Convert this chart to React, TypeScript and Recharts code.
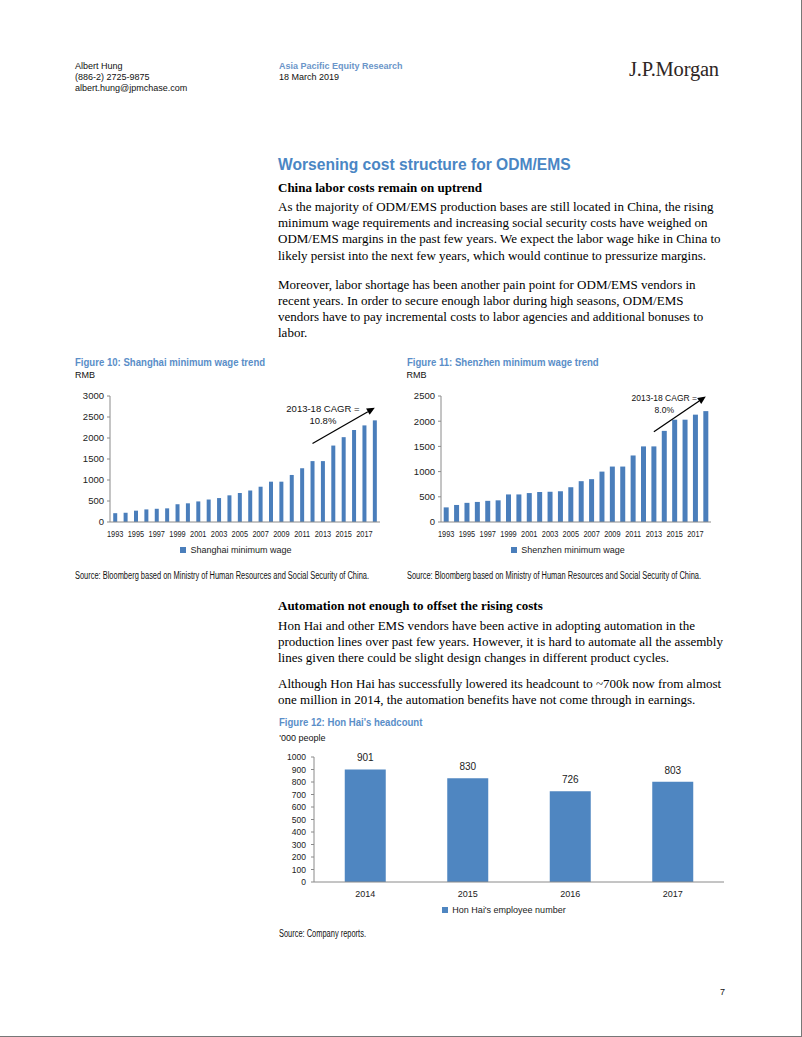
import React from 'react';
import { BarChart, Bar, XAxis, YAxis, Legend, ReferenceLine, ReferenceDot, LabelList } from 'recharts';

// ---------- data ----------
const years = ['1993','1994','1995','1996','1997','1998','1999','2000','2001','2002','2003','2004','2005','2006','2007','2008','2009','2010','2011','2012','2013','2014','2015','2016','2017','2018'];
const shanghaiWage = [210,220,270,300,315,325,423,445,490,535,570,635,690,750,840,960,960,1120,1280,1450,1450,1820,2020,2190,2300,2420];
const shenzhenWage = [290,338,380,398,420,430,547,547,574,595,600,610,690,810,850,1000,1100,1100,1320,1500,1500,1808,2030,2030,2130,2200];
const shanghaiTicks = [0,500,1000,1500,2000,2500,3000];
const shenzhenTicks = [0,500,1000,1500,2000,2500];

const hhYears = ['2014','2015','2016','2017'];
const hhHeadcount = [901,830,726,803];
const hhTicks = [0,100,200,300,400,500,600,700,800,900,1000];

// annotation anchors (data coordinates)
const shArrow = [{ x: '2012', y: 1870 }, { x: '2018', y: 2720 }];
const shCagrLines = ['2013-18 CAGR =', '10.8%'];
const shCagrAt = { x: '2013', y: 2690 };
const szArrow = [{ x: '2013', y: 1790 }, { x: '2018', y: 2490 }];
const szCagrLines = ['2013-18 CAGR =', '8.0%'];
const szCagrAt = { x: '2014', y: 2466 };

const shData = years.map((y, i) => ({ year: y, value: shanghaiWage[i] }));
const szData = years.map((y, i) => ({ year: y, value: shenzhenWage[i] }));
const hhData = hhYears.map((y, i) => ({ year: y, value: hhHeadcount[i] }));

// category boundaries for Excel-style "between" tick marks
const boundaries = (n: number) => Array.from({ length: n + 1 }, (_, i) => i);

// ---------- styles ----------
const SANS = "'Liberation Sans', Arial, sans-serif";
const SERIF = "'Liberation Serif', 'Times New Roman', serif";
const BAR = '#4a7ebb';
const BAR12 = '#4f86c1';
const AXIS = '#8a8a8a';
const BLUE = '#4a86c4';
const TITLE_BLUE = '#5a8ec8';

const sansTop = (baseline: number, size: number, lh: number) => baseline - ((lh - 1.117 * size) / 2 + 0.905 * size);
const serifTop = (baseline: number, size: number, lh: number) => baseline - ((lh - 1.107 * size) / 2 + 0.891 * size);

const SansText = ({ x, baseline, size, children, bold, color, narrow, lh }: any) => {
  const l = lh || size * 1.2;
  return (
    <div style={{ position: 'absolute', left: x, top: sansTop(baseline, size, l), fontFamily: SANS, fontSize: size, lineHeight: `${l}px`, fontWeight: bold ? 700 : 400, color: color || '#111', whiteSpace: 'nowrap', transform: narrow ? `scaleX(${narrow})` : undefined, transformOrigin: 'left top' }}>{children}</div>
  );
};

const SerifBlock = ({ x, baseline, size, lh, lines, bold }: any) => (
  <div style={{ position: 'absolute', left: x, top: serifTop(baseline, size, lh), fontFamily: SERIF, fontSize: size, lineHeight: `${lh}px`, fontWeight: bold ? 700 : 400, color: '#000', whiteSpace: 'nowrap' }}>
    {lines.map((t: string, i: number) => <div key={i}>{t}</div>)}
  </div>
);

const NarrowTick = (p: any) => (
  <g transform={`translate(${p.x},${p.y})`}>
    <text transform="scale(0.82,1)" textAnchor="middle" dy="0.71em" fontSize={9} fill="#222" fontFamily={SANS}>{p.payload.value}</text>
  </g>
);

const Arrow = (p: any) => {
  const { x1, y1, x2, y2 } = p;
  if ([x1, y1, x2, y2].some((v) => typeof v !== 'number' || isNaN(v))) return <g />;
  const ang = Math.atan2(y2 - y1, x2 - x1);
  const L = 8, W = 3.6;
  const bx = x2 - L * Math.cos(ang), by = y2 - L * Math.sin(ang);
  const pts = `${x2},${y2} ${bx + W * Math.sin(ang)},${by - W * Math.cos(ang)} ${bx - W * Math.sin(ang)},${by + W * Math.cos(ang)}`;
  return (
    <g>
      <line x1={x1} y1={y1} x2={bx} y2={by} stroke="#000" strokeWidth={1.3} />
      <polygon points={pts} fill="#000" />
    </g>
  );
};

const cagrShape = (lines: string[], size: number) => (p: any) => (
  <text x={p.cx} y={p.cy} textAnchor="middle" fontFamily={SANS} fontSize={size} fill="#111">
    <tspan x={p.cx} dy="0.35em">{lines[0]}</tspan>
    <tspan x={p.cx} dy="12">{lines[1]}</tspan>
  </text>
);

const legendFmt = (v: string) => <span style={{ color: '#222' }}>{v}</span>;

const WageChart = ({ left, data, ticks, max, name, gap, arrow, cagrAt, cagrLines, cagrSize, legendPad }: any) => (
  <div style={{ position: 'absolute', left, top: 380 }}>
    <BarChart width={330} height={190} data={data} margin={{ top: 16, right: 10, bottom: 0, left: 0 }} barCategoryGap={gap}>
      <XAxis xAxisId="bounds" type="number" domain={[0, data.length]} ticks={boundaries(data.length)} interval={0} height={0}
        tick={false} tickSize={3} axisLine={false} tickLine={{ stroke: AXIS }} allowDataOverflow />
      <XAxis dataKey="year" interval={1} tickLine={false} axisLine={{ stroke: AXIS }} tickSize={4} tickMargin={5} height={20}
        tick={<NarrowTick />} />
      <YAxis width={50} domain={[0, max]} ticks={ticks} interval={0} tickSize={3} tickMargin={3} axisLine={{ stroke: AXIS }} tickLine={{ stroke: AXIS }}
        tick={{ fontSize: 9.5, fill: '#222', fontFamily: SANS }} />
      <Bar dataKey="value" name={name} fill={BAR} isAnimationActive={false} />
      <Legend verticalAlign="bottom" height={25.5} iconType="square" iconSize={6} formatter={legendFmt}
        wrapperStyle={{ paddingLeft: legendPad, paddingTop: 2.5, fontSize: 9, fontFamily: SANS, lineHeight: '11px' }} />
      <ReferenceLine segment={arrow} ifOverflow="visible" shape={Arrow} />
      <ReferenceDot x={cagrAt.x} y={cagrAt.y} r={0} ifOverflow="visible" shape={cagrShape(cagrLines, cagrSize)} />
    </BarChart>
  </div>
);

const HeadcountChart = () => (
  <div style={{ position: 'absolute', left: 270, top: 740 }}>
    <BarChart width={464} height={182} data={hhData} margin={{ top: 17, right: 10, bottom: 0, left: 0 }} barCategoryGap="30%">
      <XAxis xAxisId="bounds" type="number" domain={[0, hhData.length]} ticks={boundaries(hhData.length)} interval={0} height={0}
        tick={false} tickSize={4} axisLine={false} tickLine={{ stroke: AXIS }} allowDataOverflow />
      <XAxis dataKey="year" tickLine={false} axisLine={{ stroke: AXIS }} tickSize={4} tickMargin={5} height={18}
        tick={{ fontSize: 9, fill: '#222', fontFamily: SANS }} />
      <YAxis width={44} domain={[0, 1000]} ticks={hhTicks} interval={0} tickSize={3} tickMargin={5} axisLine={{ stroke: AXIS }} tickLine={{ stroke: AXIS }}
        tick={{ fontSize: 8.5, fill: '#222', fontFamily: SANS }} />
      <Bar dataKey="value" name="Hon Hai's employee number" fill={BAR12} isAnimationActive={false}>
        <LabelList dataKey="value" position="top" offset={8} style={{ fontSize: 10, fill: '#222', fontFamily: SANS }} />
      </Bar>
      <Legend verticalAlign="bottom" height={17.5} iconType="square" iconSize={6} formatter={legendFmt}
        wrapperStyle={{ paddingLeft: 12, paddingTop: 4.5, fontSize: 9, fontFamily: SANS, lineHeight: '11px' }} />
    </BarChart>
  </div>
);

const para1 = [
  'As the majority of ODM/EMS production bases are still located in China, the rising',
  'minimum wage requirements and increasing social security costs have weighed on',
  'ODM/EMS margins in the past few years. We expect the labor wage hike in China to',
  'likely persist into the next few years, which would continue to pressurize margins.',
];
const para2 = [
  'Moreover, labor shortage has been another pain point for ODM/EMS vendors in',
  'recent years. In order to secure enough labor during high seasons, ODM/EMS',
  'vendors have to pay incremental costs to labor agencies and additional bonuses to',
  'labor.',
];
const para3 = [
  'Hon Hai and other EMS vendors have been active in adopting automation in the',
  'production lines over past few years. However, it is hard to automate all the assembly',
  'lines given there could be slight design changes in different product cycles.',
];
const para4 = [
  'Although Hon Hai has successfully lowered its headcount to ~700k now from almost',
  'one million in 2014, the automation benefits have not come through in earnings.',
];

export default function App() {
  const src = 'Source: Bloomberg based on Ministry of Human Resources and Social Security of China.';
  return (
    <div style={{ position: 'relative', width: 802, height: 1037, background: '#fff', boxSizing: 'border-box', borderRight: '1px solid #777', borderBottom: '1px solid #777', overflow: 'hidden' }}>
      <style>{'body{margin:0}'}</style>
      {/* header */}
      <SansText x={75} baseline={70} size={9}>Albert Hung</SansText>
      <SansText x={75} baseline={80.6} size={9}>(886-2) 2725-9875</SansText>
      <SansText x={75} baseline={91.2} size={9}>albert.hung@jpmchase.com</SansText>
      <SansText x={279} baseline={69.5} size={9} bold color="#6b95c9">Asia Pacific Equity Research</SansText>
      <SansText x={279} baseline={80.2} size={9}>18 March 2019</SansText>
      <div style={{ position: 'absolute', left: 629, top: serifTop(76, 20.5, 22), fontFamily: SERIF, fontSize: 20.5, lineHeight: '22px', color: '#2e2624', letterSpacing: -0.2, whiteSpace: 'nowrap' }}>J.P.Morgan</div>

      {/* section 1 */}
      <SansText x={278} baseline={170.7} size={15.6} bold color={BLUE}>Worsening cost structure for ODM/EMS</SansText>
      <SerifBlock x={278} baseline={192.7} size={13} lh={16.1} lines={['China labor costs remain on uptrend']} bold />
      <SerifBlock x={278} baseline={211.7} size={13} lh={16.1} lines={para1} />
      <SerifBlock x={278} baseline={289.3} size={13} lh={16.1} lines={para2} />

      {/* figure 10 */}
      <SansText x={75} baseline={366} size={11.7} bold color={TITLE_BLUE} narrow={0.82}>Figure 10: Shanghai minimum wage trend</SansText>
      <SansText x={75} baseline={378.3} size={9}>RMB</SansText>
      <WageChart left={60} data={shData} ticks={shanghaiTicks} max={3000} name="Shanghai minimum wage" gap="31%"
        arrow={shArrow} cagrAt={shCagrAt} cagrLines={shCagrLines} cagrSize={9.5} legendPad={21} />
      <SansText x={75} baseline={579.7} size={10} narrow={0.745}>{src}</SansText>

      {/* figure 11 */}
      <SansText x={406.5} baseline={366} size={11.7} bold color={TITLE_BLUE} narrow={0.82}>Figure 11: Shenzhen minimum wage trend</SansText>
      <SansText x={406.5} baseline={378.3} size={9}>RMB</SansText>
      <WageChart left={391} data={szData} ticks={shenzhenTicks} max={2500} name="Shenzhen minimum wage" gap="26%"
        arrow={szArrow} cagrAt={szCagrAt} cagrLines={szCagrLines} cagrSize={8.5} legendPad={22} />
      <SansText x={406.5} baseline={579.7} size={10} narrow={0.745}>{src}</SansText>

      {/* section 2 */}
      <SerifBlock x={278} baseline={610.7} size={13} lh={16.1} lines={['Automation not enough to offset the rising costs']} bold />
      <SerifBlock x={278} baseline={630} size={13} lh={16.1} lines={para3} />
      <SerifBlock x={278} baseline={688.3} size={13} lh={16.1} lines={para4} />

      {/* figure 12 */}
      <SansText x={279.3} baseline={726} size={11.7} bold color={TITLE_BLUE} narrow={0.82}>Figure 12: Hon Hai's headcount</SansText>
      <SansText x={279.3} baseline={741.7} size={9}>'000 people</SansText>
      <HeadcountChart />
      <SansText x={279.3} baseline={937.7} size={10} narrow={0.745}>Source: Company reports.</SansText>

      <SansText x={720} baseline={996} size={9}>7</SansText>
    </div>
  );
}
